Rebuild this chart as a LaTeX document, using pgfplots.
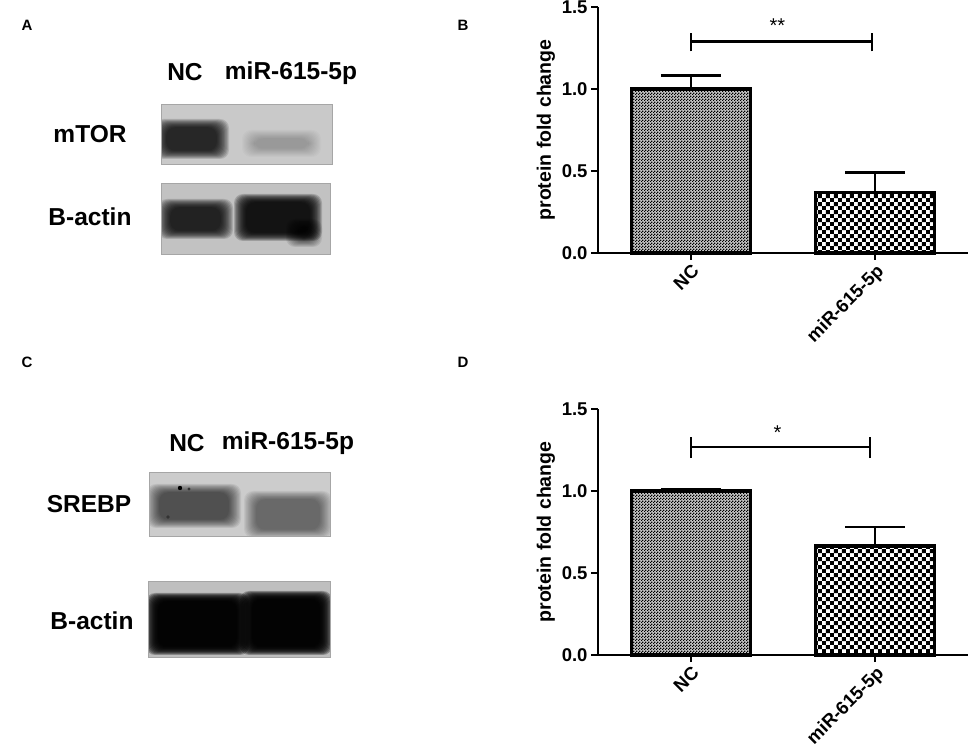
\documentclass[border=0pt]{standalone}
\usepackage{fontspec}
\setmainfont{Liberation Sans}
\usepackage{pgfplots}
\pgfplotsset{compat=1.18}
\usetikzlibrary{patterns}
\pgfdeclarepatternformonly{finecheck}{\pgfqpoint{0pt}{0pt}}{\pgfqpoint{2.7pt}{2.7pt}}{\pgfqpoint{2.7pt}{2.7pt}}{%
 \pgfpathrectangle{\pgfqpoint{0pt}{0pt}}{\pgfqpoint{1.35pt}{1.35pt}}%
 \pgfpathrectangle{\pgfqpoint{1.35pt}{1.35pt}}{\pgfqpoint{1.35pt}{1.35pt}}%
 \pgfusepath{fill}}
\pgfdeclarepatternformonly{coarsecheck}{\pgfqpoint{0pt}{0pt}}{\pgfqpoint{8.4pt}{8.4pt}}{\pgfqpoint{8.4pt}{8.4pt}}{%
 \pgfpathrectangle{\pgfqpoint{0pt}{0pt}}{\pgfqpoint{4.2pt}{4.2pt}}%
 \pgfpathrectangle{\pgfqpoint{4.2pt}{4.2pt}}{\pgfqpoint{4.2pt}{4.2pt}}%
 \pgfusepath{fill}}

\pgfplotsset{
 fold/.style={
  scale only axis, width=370pt, height=246pt,
  xmin=-0.505, xmax=1.505, ymin=0, ymax=1.5,
  axis x line=bottom, axis y line=left,
  axis line style={-, line width=2pt, black},
  tick align=outside,
  every tick/.style={black, line width=2pt},
  major tick length=7pt,
  xtick={0,1}, xticklabels={NC, miR-615-5p},
  ytick={0,0.5,1,1.5},
  yticklabel style={/pgf/number format/.cd, fixed, fixed zerofill, precision=1},
  /pgf/number format/assume math mode=true,
  ticklabel style={font=\bfseries\fontsize{18.5}{20}\selectfont},
  x tick label style={rotate=45, anchor=north east, inner sep=2pt},
  ylabel={protein fold change},
  ylabel style={font=\bfseries\fontsize{19.5}{21}\selectfont},
  clip=false,
 },
 foldbar/.style={ybar, bar width=119pt, bar shift=0pt, draw=black, line width=3.2pt,
  error bars/.cd, y dir=plus, y explicit, error mark=|,
  error bar style={line width=2.8pt, solid, black},
  error mark options={black, line width=2.8pt, mark size=30pt}},
 bracket/.style={black, line width=2.4pt, no marks, sharp plot},
}

\newcommand\band[6]{%
 \foreach \i in {0,1,...,11}{%
  \fill[#5, opacity=#6, rounded corners=9pt] ({#1+\i*1.1},{#2+\i*0.75}) rectangle ({#3-\i*1.1},{#4-\i*0.75});
 }}

\begin{document}
\begin{tikzpicture}[x=1pt,y=1pt]
\useasboundingbox (0,0) rectangle (970,753);

% panel letters
\begin{scope}[font=\bfseries\fontsize{15}{16}\selectfont]
\node at (27,728) {A};
\node at (463,728) {B};
\node at (27,391) {C};
\node at (463,391) {D};
\end{scope}

% ---------- panel A blots ----------
\begin{scope}[font=\bfseries\fontsize{24.5}{26}\selectfont]
\node[anchor=base] at (185,672) {NC};
\node[anchor=base] at (291,673) {miR-615-5p};
\node[anchor=base] at (90,610) {mTOR};
\node[anchor=base] at (90,527) {B-actin};
\end{scope}
\fill[gray!42!white] (161,589) rectangle (332,649);
\begin{scope}
\clip (161,589) rectangle (332,649);
\band{154}{594}{229}{634}{black}{0.12}
\band{242}{596}{321}{623}{black}{0.02}
\end{scope}
\draw[gray!70, line width=0.8pt] (161,589) rectangle (332,649);

\fill[gray!48!white] (161,499) rectangle (330,570);
\begin{scope}
\clip (161,499) rectangle (330,570);
\band{158}{514}{233}{554}{black}{0.13}
\band{234}{512}{322}{559}{black}{0.17}
\band{286}{506}{322}{534}{black}{0.08}
\end{scope}
\draw[gray!70, line width=0.8pt] (161,499) rectangle (330,570);

% ---------- panel C blots ----------
\begin{scope}[font=\bfseries\fontsize{24.5}{26}\selectfont]
\node[anchor=base] at (187,301) {NC};
\node[anchor=base] at (288,303) {miR-615-5p};
\node[anchor=base] at (89,240) {SREBP};
\node[anchor=base] at (92,123) {B-actin};
\end{scope}
\fill[gray!40!white] (149,217) rectangle (330,281);
\begin{scope}
\clip (149,217) rectangle (330,281);
\band{147}{225}{241}{269}{black}{0.07}
\band{244}{215}{332}{262}{black}{0.05}
\end{scope}
\fill[black] (180,265) circle (2.2);
\fill[black!80] (189,264) circle (1.6);
\fill[black!80] (168,236) circle (1.8);
\draw[gray!70, line width=0.8pt] (149,217) rectangle (330,281);

\fill[gray!50!white] (148,96) rectangle (330,172);
\begin{scope}
\clip (148,96) rectangle (330,172);
\band{146}{98}{249}{160}{black}{0.26}
\band{240}{98}{332}{162}{black}{0.26}
\end{scope}
\draw[gray!70, line width=0.8pt] (148,96) rectangle (330,172);

% ---------- panel B chart ----------
\begin{axis}[fold, at={(598pt,500pt)}, anchor=south west]
\addplot[pattern=finecheck, preaction={fill=gray!45}, foldbar] coordinates {(0,1.0) +- (0,0.08)};
\addplot[pattern=coarsecheck, foldbar] coordinates {(1,0.37) +- (0,0.12)};
\addplot[bracket] coordinates {(0,1.23) (0,1.34)};
\addplot[bracket] coordinates {(0,1.29) (0.984,1.29)};
\addplot[bracket] coordinates {(0.984,1.23) (0.984,1.34)};
\node[anchor=north, inner sep=0pt, font=\fontsize{20}{22}\selectfont] at (axis cs:0.47,1.43) {**};
\end{axis}

% ---------- panel D chart ----------
\begin{axis}[fold, at={(598pt,98pt)}, anchor=south west]
\addplot[pattern=finecheck, preaction={fill=gray!45}, foldbar] coordinates {(0,1.0) +- (0,0.01)};
\addplot[pattern=coarsecheck, foldbar] coordinates {(1,0.665) +- (0,0.115)};
\addplot[bracket] coordinates {(0,1.20) (0,1.33)};
\addplot[bracket] coordinates {(0,1.27) (0.973,1.27)};
\addplot[bracket] coordinates {(0.973,1.20) (0.973,1.33)};
\node[anchor=north, inner sep=0pt, font=\fontsize{20}{22}\selectfont] at (axis cs:0.47,1.40) {*};
\end{axis}
\end{tikzpicture}
\end{document}
